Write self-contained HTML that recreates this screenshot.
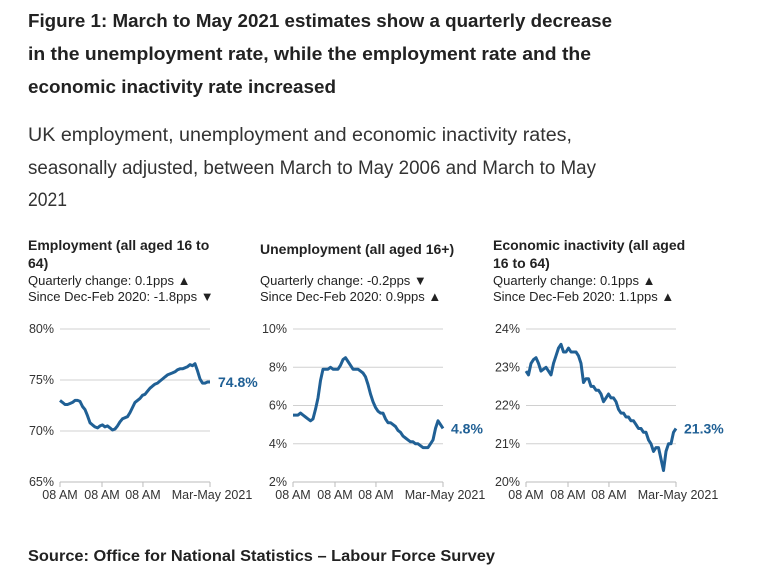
<!DOCTYPE html>
<html><head><meta charset="utf-8"><style>
body{margin:0;background:#fff;}
svg{display:block;font-family:"Liberation Sans",sans-serif;}
.t{font-weight:bold;font-size:18px;fill:#222;}
.s{font-size:19px;fill:#333;}
.pt{font-weight:bold;font-size:14px;fill:#222;}
.ps{font-size:13px;fill:#222;}
.tk{font-size:12.5px;fill:#333;}
.end{font-weight:bold;font-size:14px;fill:#206095;}
</style></head><body>
<svg id="root" width="770" height="566" viewBox="0 0 770 566">
<g>
<text class="t" x="28" y="27" textLength="584" lengthAdjust="spacingAndGlyphs">Figure 1: March to May 2021 estimates show a quarterly decrease</text>
<text class="t" x="28" y="60" textLength="563" lengthAdjust="spacingAndGlyphs">in the unemployment rate, while the employment rate and the</text>
<text class="t" x="28" y="93" textLength="308" lengthAdjust="spacingAndGlyphs">economic inactivity rate increased</text>
</g>
<g>
<text class="s" x="28" y="141" textLength="544" lengthAdjust="spacingAndGlyphs">UK employment, unemployment and economic inactivity rates,</text>
<text class="s" x="28" y="174" textLength="568" lengthAdjust="spacingAndGlyphs">seasonally adjusted, between March to May 2006 and March to May</text>
<text class="s" x="28" y="206" textLength="39" lengthAdjust="spacingAndGlyphs">2021</text>
</g>
<g>
<text class="pt" x="28" y="250">Employment (all aged 16 to</text>
<text class="pt" x="28" y="268">64)</text>
<text class="ps" x="28" y="285">Quarterly change: 0.1pps ▲</text>
<text class="ps" x="28" y="301">Since Dec-Feb 2020: -1.8pps ▼</text>
</g>
<g>
<text class="pt" x="260" y="254">Unemployment (all aged 16+)</text>
<text class="ps" x="260" y="285">Quarterly change: -0.2pps ▼</text>
<text class="ps" x="260" y="301">Since Dec-Feb 2020: 0.9pps ▲</text>
</g>
<g>
<text class="pt" x="493" y="250">Economic inactivity (all aged</text>
<text class="pt" x="493" y="268">16 to 64)</text>
<text class="ps" x="493" y="285">Quarterly change: 0.1pps ▲</text>
<text class="ps" x="493" y="301">Since Dec-Feb 2020: 1.1pps ▲</text>
</g>
<text x="28" y="561" textLength="467" lengthAdjust="spacingAndGlyphs" style="font-weight:bold;font-size:16px;fill:#222">Source: Office for National Statistics – Labour Force Survey</text>
<g id="charts"></g>
</svg>
<script>
const xTickLabels = ["08 AM","08 AM","08 AM","Mar-May 2021"];
const xTickFrac = [0, 0.28, 0.553, 1];
const empValues = [73.0,72.8,72.6,72.6,72.7,72.8,73.0,73.0,72.9,72.4,72.1,71.5,70.8,70.6,70.4,70.3,70.5,70.6,70.4,70.5,70.3,70.1,70.2,70.5,70.9,71.2,71.3,71.4,71.8,72.3,72.8,73.0,73.2,73.5,73.6,73.9,74.2,74.4,74.6,74.7,74.9,75.1,75.3,75.5,75.6,75.7,75.8,76.0,76.1,76.1,76.2,76.3,76.5,76.4,76.6,75.9,75.1,74.7,74.7,74.8,74.8];
const empTicks = [65,70,75,80];
const unempValues = [5.5,5.5,5.5,5.6,5.5,5.4,5.3,5.2,5.3,5.8,6.4,7.3,7.9,7.9,7.9,8.0,7.9,7.9,7.9,8.1,8.4,8.5,8.3,8.1,7.9,7.9,7.9,7.8,7.7,7.5,7.1,6.6,6.2,5.9,5.7,5.6,5.6,5.3,5.1,5.1,5.0,4.9,4.7,4.6,4.4,4.3,4.2,4.1,4.1,4.0,4.0,3.9,3.8,3.8,3.8,4.0,4.2,4.8,5.2,5.0,4.8];
const unempTicks = [2,4,6,8,10];
const inactValues = [22.9,22.8,23.1,23.2,23.25,23.1,22.9,22.95,23.0,22.9,22.8,23.1,23.3,23.5,23.6,23.4,23.4,23.5,23.4,23.4,23.4,23.3,23.1,22.6,22.7,22.7,22.5,22.5,22.4,22.4,22.3,22.1,22.2,22.3,22.2,22.2,22.1,21.9,21.8,21.8,21.7,21.7,21.6,21.6,21.5,21.4,21.4,21.3,21.3,21.1,21.0,20.8,20.9,20.9,20.6,20.3,20.8,21.0,21.0,21.3,21.4];
const inactTicks = [20,21,22,23,24];
const endLabels = ["74.8%","4.8%","21.3%"];

const NS="http://www.w3.org/2000/svg";
const root=document.getElementById('charts');
function mk(tag,attrs,parent){const e=document.createElementNS(NS,tag);for(const k in attrs)e.setAttribute(k,attrs[k]);parent.appendChild(e);return e;}

function drawChart(name,x0,x1,yTop,yBot,ticks,values,endLabel,labelX){
  const g=mk('g',{},root);
  
  
  const lo=ticks[0],hi=ticks[ticks.length-1];
  const ys=v=>yBot-(v-lo)/(hi-lo)*(yBot-yTop);
  const xs=i=>x0+i/(values.length-1)*(x1-x0);
  ticks.forEach(t=>{
    const y=ys(t);
    const ln=mk('line',{x1:x0,x2:x1,y1:y,y2:y,stroke:t===lo?'#bbb':'#d0d0d0','stroke-width':1},g);
    
    
    const tx=mk('text',{x:x0-6,y:y+4,'text-anchor':'end',class:'tk'},g);
    tx.textContent=t+'%';
    
    
  });
  xTickLabels.forEach((l,k)=>{
    const x=x0+xTickFrac[k]*(x1-x0);
    const tl=mk('line',{x1:x,x2:x,y1:yBot,y2:yBot+5,stroke:'#bbb'},g);
    
    
    const tx=mk('text',{x:k===xTickLabels.length-1?x+2:x,y:yBot+17,'text-anchor':'middle',class:'tk'},g);
    tx.textContent=l;
    
    
  });
  const d=values.map((v,i)=>(i?'L':'M')+xs(i).toFixed(1)+' '+ys(v).toFixed(1)).join(' ');
  const p=mk('path',{d:d,fill:'none',stroke:'#206095','stroke-width':3,'stroke-linejoin':'round'},g);
  
  
  const el=mk('text',{x:labelX,y:ys(values[values.length-1])+5,class:'end'},g);
  el.textContent=endLabel;
  
  
}
drawChart('employment',60,210,329,482,empTicks,empValues,endLabels[0],218);
drawChart('unemployment',293,443,329,482,unempTicks,unempValues,endLabels[1],451);
drawChart('inactivity',526,676,329,482,inactTicks,inactValues,endLabels[2],684);
</script>
</body></html>
